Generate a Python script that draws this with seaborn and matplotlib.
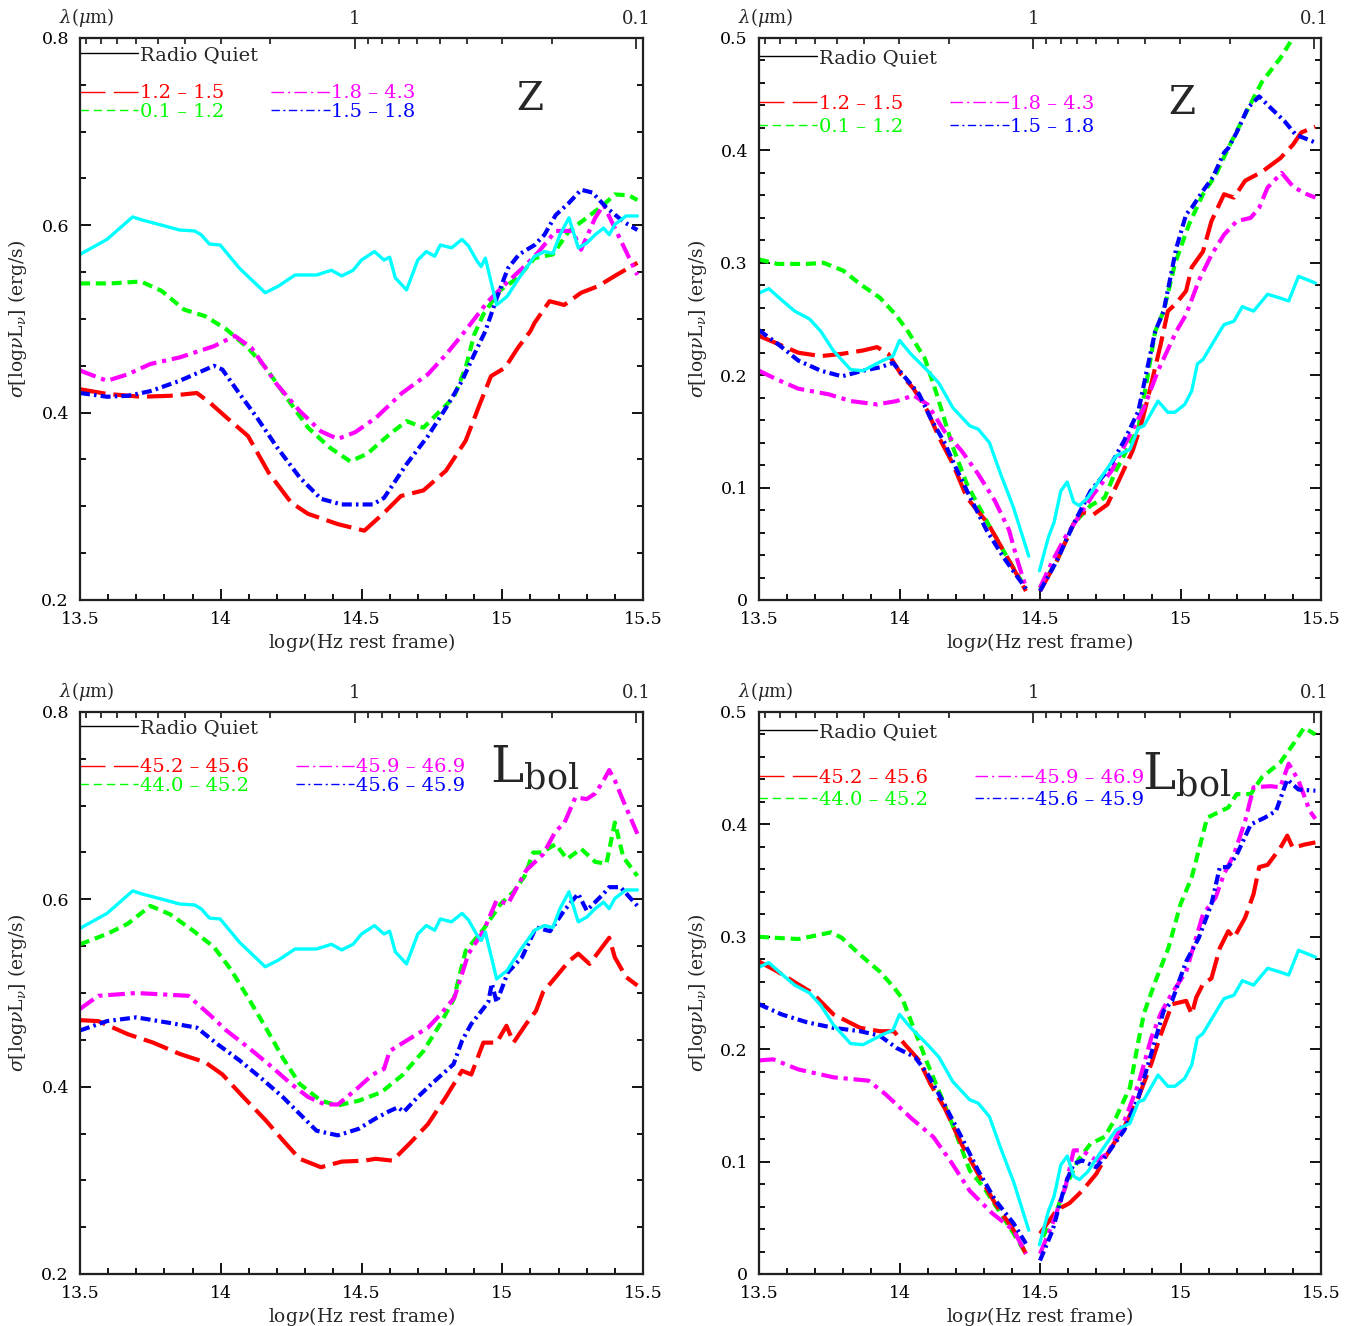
import numpy as np
import matplotlib
matplotlib.use("Agg")
import matplotlib.pyplot as plt
from matplotlib.lines import Line2D
from matplotlib.ticker import MultipleLocator, FuncFormatter, FixedLocator
import seaborn as sns

# --- data: log nu (Hz) vs sigma[log nu L_nu]
# radio quiet reference (cyan), same in both left panels
rq_left_x = [13.5, 13.596, 13.687, 13.717, 13.793, 13.854, 13.907, 13.93, 13.96, 13.998, 14.067, 14.158,
             14.204, 14.264, 14.34, 14.393, 14.43, 14.47, 14.50, 14.546, 14.58, 14.60, 14.62, 14.66, 14.70,
             14.73, 14.76, 14.78, 14.82, 14.857, 14.88, 14.91, 14.925, 14.94, 14.98, 15.017, 15.06, 15.115,
             15.15, 15.18, 15.205, 15.237, 15.27, 15.30, 15.33, 15.36, 15.38, 15.40, 15.44, 15.48]
rq_left_y = [0.569, 0.585, 0.609, 0.606, 0.600, 0.595, 0.594, 0.590, 0.580, 0.579, 0.554, 0.528,
             0.535, 0.547, 0.547, 0.552, 0.546, 0.552, 0.563, 0.572, 0.563, 0.566, 0.544, 0.531, 0.563,
             0.572, 0.567, 0.579, 0.576, 0.585, 0.578, 0.562, 0.556, 0.565, 0.515, 0.524, 0.544, 0.567,
             0.572, 0.570, 0.590, 0.608, 0.576, 0.581, 0.590, 0.597, 0.590, 0.601, 0.610, 0.610]

# radio quiet reference, same in both right panels (gap at the normalisation point)
nan = np.nan
rq_right_x = [13.5, 13.535, 13.58, 13.627, 13.68, 13.72, 13.764, 13.826, 13.87, 13.94, 13.977, 14.0, 14.04,
              14.10, 14.14, 14.19, 14.25, 14.28, 14.32, 14.36, 14.406, 14.46, nan, 14.498, 14.53, 14.55,
              14.574, 14.597, 14.62, 14.64, 14.67, 14.72, 14.77, 14.82, 14.85, 14.87, 14.92, 14.955, 14.98,
              15.015, 15.04, 15.06, 15.08, 15.14, 15.155, 15.19, 15.22, 15.26, 15.31, 15.35, 15.385, 15.42,
              15.46, 15.48]
rq_right_y = [0.273, 0.277, 0.267, 0.257, 0.250, 0.239, 0.222, 0.205, 0.204, 0.213, 0.217, 0.231, 0.219,
              0.204, 0.193, 0.171, 0.155, 0.152, 0.140, 0.112, 0.082, 0.039, nan, 0.026, 0.056, 0.069,
              0.097, 0.105, 0.087, 0.084, 0.091, 0.110, 0.128, 0.134, 0.153, 0.155, 0.177, 0.167, 0.167,
              0.174, 0.186, 0.210, 0.214, 0.239, 0.245, 0.248, 0.261, 0.257, 0.272, 0.269, 0.266, 0.288,
              0.284, 0.282]

# redshift bins, top left
z_red_x = [13.5, 13.596, 13.717, 13.82, 13.915, 13.96, 14.02, 14.097, 14.17, 14.25, 14.31, 14.416, 14.51,
           14.58, 14.64, 14.72, 14.80, 14.87, 14.92, 14.96, 15.01, 15.055, 15.10, 15.115, 15.168, 15.22,
           15.28, 15.34, 15.40, 15.48]
z_red_y = [0.425, 0.420, 0.417, 0.418, 0.421, 0.411, 0.395, 0.375, 0.336, 0.304, 0.292, 0.281, 0.274,
           0.293, 0.311, 0.317, 0.338, 0.370, 0.409, 0.439, 0.448, 0.469, 0.487, 0.496, 0.519, 0.515,
           0.528, 0.535, 0.546, 0.560]
z_green_x = [13.5, 13.61, 13.717, 13.79, 13.87, 13.945, 14.02, 14.097, 14.16, 14.234, 14.31, 14.386, 14.46,
             14.52, 14.60, 14.66, 14.72, 14.78, 14.827, 14.87, 14.90, 14.933, 14.99, 15.055, 15.115, 15.18,
             15.237, 15.30, 15.36, 15.40, 15.45, 15.48]
z_green_y = [0.538, 0.538, 0.540, 0.530, 0.510, 0.503, 0.489, 0.469, 0.448, 0.416, 0.384, 0.363, 0.348,
             0.356, 0.377, 0.391, 0.384, 0.402, 0.416, 0.448, 0.483, 0.505, 0.530, 0.544, 0.565, 0.569,
             0.594, 0.608, 0.622, 0.633, 0.632, 0.627]
z_mag_x = [13.5, 13.596, 13.67, 13.75, 13.854, 13.976, 14.05, 14.11, 14.20, 14.28, 14.356, 14.416, 14.477,
           14.553, 14.644, 14.736, 14.80, 14.857, 14.95, 15.01, 15.085, 15.13, 15.19, 15.25, 15.28, 15.33,
           15.36, 15.40, 15.44, 15.48]
z_mag_y = [0.445, 0.434, 0.441, 0.452, 0.459, 0.471, 0.482, 0.469, 0.430, 0.402, 0.380, 0.372, 0.379,
           0.395, 0.421, 0.441, 0.462, 0.483, 0.519, 0.537, 0.558, 0.572, 0.594, 0.594, 0.574, 0.608,
           0.622, 0.597, 0.572, 0.547]
z_blue_x = [13.5, 13.596, 13.67, 13.75, 13.854, 13.976, 14.006, 14.067, 14.128, 14.20, 14.28, 14.356, 14.43,
            14.54, 14.58, 14.66, 14.736, 14.80, 14.857, 14.90, 14.94, 14.98, 15.02, 15.06, 15.115, 15.15,
            15.19, 15.237, 15.28, 15.32, 15.37, 15.43, 15.48]
z_blue_y = [0.421, 0.417, 0.418, 0.423, 0.434, 0.450, 0.446, 0.420, 0.395, 0.363, 0.331, 0.308, 0.302,
            0.302, 0.309, 0.345, 0.375, 0.405, 0.434, 0.462, 0.487, 0.522, 0.554, 0.569, 0.579, 0.590,
            0.611, 0.624, 0.638, 0.635, 0.619, 0.604, 0.595]

# redshift bins, top right
zr_red_x = [13.5, 13.566, 13.64, 13.72, 13.795, 13.87, 13.92, 13.96, 14.005, 14.05, 14.10, 14.14, 14.19, 14.24,
            14.315, 14.39, 14.45, nan, 14.50, 14.56, 14.62, 14.65, 14.69, 14.74, 14.78, 14.83, 14.86, 14.89,
            14.93, 14.955, 14.985, 15.02, 15.04, 15.08, 15.11, 15.155, 15.19, 15.23, 15.29, 15.355, 15.40,
            15.43, 15.48]
zr_red_y = [0.235, 0.228, 0.220, 0.217, 0.219, 0.222, 0.225, 0.219, 0.201, 0.188, 0.168, 0.145, 0.121, 0.091,
            0.068, 0.035, 0.008, nan, 0.008, 0.035, 0.068, 0.078, 0.076, 0.085, 0.106, 0.133, 0.156, 0.186,
            0.228, 0.257, 0.264, 0.275, 0.296, 0.310, 0.337, 0.361, 0.358, 0.373, 0.381, 0.393, 0.405,
            0.416, 0.421]
zr_green_x = [13.5, 13.566, 13.673, 13.73, 13.80, 13.86, 13.93, 13.986, 14.03, 14.09, 14.13, 14.19, 14.24,
              14.315, 14.39, 14.45, nan, 14.50, 14.56, 14.62, 14.68, 14.73, 14.77, 14.81, 14.85, 14.88, 14.91,
              14.94, 14.98, 15.03, 15.08, 15.125, 15.17, 15.23, 15.29, 15.355, 15.40, 15.45]
zr_green_y = [0.303, 0.299, 0.299, 0.300, 0.293, 0.281, 0.269, 0.254, 0.239, 0.215, 0.185, 0.136, 0.103,
              0.068, 0.035, 0.010, nan, 0.010, 0.035, 0.068, 0.084, 0.091, 0.115, 0.134, 0.153, 0.195, 0.239,
              0.257, 0.299, 0.334, 0.361, 0.378, 0.402, 0.432, 0.461, 0.482, 0.500, 0.515]
zr_mag_x = [13.5, 13.566, 13.64, 13.748, 13.826, 13.92, 13.99, 14.05, 14.10, 14.16, 14.22, 14.28, 14.34, 14.39,
            14.42, 14.45, nan, 14.50, 14.545, 14.59, 14.635, 14.69, 14.755, 14.81, 14.87, 14.92, 14.985, 15.02,
            15.065, 15.11, 15.155, 15.20, 15.25, 15.28, 15.31, 15.36, 15.40, 15.44, 15.48]
zr_mag_y = [0.204, 0.196, 0.188, 0.183, 0.177, 0.174, 0.177, 0.182, 0.174, 0.150, 0.133, 0.112, 0.088, 0.062,
            0.035, 0.011, nan, 0.011, 0.035, 0.056, 0.073, 0.094, 0.115, 0.142, 0.171, 0.204, 0.239, 0.254,
            0.284, 0.307, 0.325, 0.337, 0.340, 0.349, 0.367, 0.380, 0.368, 0.362, 0.358]
zr_blue_x = [13.5, 13.566, 13.64, 13.72, 13.795, 13.87, 13.93, 13.977, 14.02, 14.07, 14.11, 14.16, 14.20, 14.25,
             14.31, 14.37, 14.45, nan, 14.50, 14.56, 14.62, 14.68, 14.74, 14.80, 14.85, 14.88, 14.91, 14.94,
             14.985, 15.02, 15.04, 15.08, 15.115, 15.155, 15.17, 15.20, 15.24, 15.28, 15.32, 15.37, 15.41, 15.48]
zr_blue_y = [0.240, 0.228, 0.213, 0.204, 0.199, 0.204, 0.207, 0.211, 0.198, 0.183, 0.162, 0.140, 0.118, 0.092,
             0.062, 0.038, 0.010, nan, 0.008, 0.035, 0.068, 0.097, 0.115, 0.142, 0.168, 0.204, 0.239, 0.257,
             0.313, 0.343, 0.349, 0.364, 0.376, 0.398, 0.402, 0.416, 0.438, 0.448, 0.438, 0.426, 0.414, 0.407]

# bolometric luminosity bins, bottom left
l_red_x = [13.5, 13.565, 13.67, 13.76, 13.854, 13.945, 14.006, 14.08, 14.16, 14.22, 14.28, 14.356, 14.43,
           14.51, 14.55, 14.61, 14.67, 14.736, 14.80, 14.857, 14.89, 14.933, 14.98, 15.015, 15.04, 15.085,
           15.12, 15.145, 15.19, 15.237, 15.27, 15.31, 15.35, 15.38, 15.40, 15.44, 15.48]
l_red_y = [0.471, 0.470, 0.456, 0.447, 0.435, 0.426, 0.413, 0.389, 0.364, 0.343, 0.323, 0.314, 0.320,
           0.321, 0.323, 0.321, 0.339, 0.360, 0.389, 0.417, 0.413, 0.447, 0.447, 0.465, 0.447, 0.467,
           0.481, 0.501, 0.517, 0.534, 0.542, 0.531, 0.547, 0.559, 0.538, 0.517, 0.508]
l_green_x = [13.5, 13.596, 13.67, 13.75, 13.82, 13.90, 13.976, 14.036, 14.097, 14.16, 14.22, 14.28, 14.356,
             14.416, 14.49, 14.57, 14.644, 14.72, 14.78, 14.827, 14.87, 14.933, 14.994, 15.04, 15.08, 15.11,
             15.14, 15.19, 15.23, 15.28, 15.33, 15.37, 15.40, 15.43, 15.48]
l_green_y = [0.552, 0.563, 0.574, 0.593, 0.584, 0.567, 0.549, 0.525, 0.495, 0.463, 0.431, 0.403, 0.385,
             0.380, 0.385, 0.394, 0.412, 0.438, 0.467, 0.493, 0.545, 0.568, 0.595, 0.608, 0.625, 0.650,
             0.650, 0.659, 0.643, 0.654, 0.640, 0.638, 0.682, 0.645, 0.625]
l_mag_x = [13.5, 13.565, 13.70, 13.885, 13.96, 14.02, 14.097, 14.17, 14.25, 14.31, 14.37, 14.416, 14.477,
           14.54, 14.58, 14.60, 14.67, 14.736, 14.78, 14.83, 14.88, 14.933, 14.98, 15.02, 15.085, 15.145,
           15.19, 15.22, 15.26, 15.30, 15.33, 15.36, 15.38, 15.40, 15.43, 15.48]
l_mag_y = [0.483, 0.497, 0.500, 0.497, 0.477, 0.460, 0.442, 0.424, 0.403, 0.389, 0.381, 0.381, 0.396,
           0.413, 0.419, 0.438, 0.451, 0.463, 0.477, 0.495, 0.542, 0.566, 0.599, 0.595, 0.631, 0.648,
           0.673, 0.681, 0.709, 0.707, 0.713, 0.727, 0.738, 0.727, 0.705, 0.670]
l_blue_x = [13.5, 13.596, 13.70, 13.82, 13.915, 13.99, 14.067, 14.14, 14.22, 14.28, 14.34, 14.416, 14.49,
            14.55, 14.60, 14.63, 14.65, 14.70, 14.76, 14.827, 14.857, 14.89, 14.95, 14.963, 14.98, 15.02,
            15.07, 15.12, 15.17, 15.22, 15.27, 15.30, 15.36, 15.38, 15.42, 15.48]
l_blue_y = [0.460, 0.470, 0.474, 0.468, 0.463, 0.445, 0.428, 0.410, 0.389, 0.371, 0.353, 0.348, 0.355,
            0.366, 0.374, 0.378, 0.373, 0.389, 0.406, 0.424, 0.449, 0.467, 0.490, 0.510, 0.490, 0.522,
            0.538, 0.570, 0.566, 0.588, 0.606, 0.588, 0.606, 0.613, 0.613, 0.593]

# bolometric luminosity bins, bottom right
lr_red_x = [13.5, 13.566, 13.69, 13.765, 13.86, 13.93, 13.98, 14.02, 14.07, 14.11, 14.16, 14.22, 14.28, 14.34,
            14.406, 14.45, nan, 14.50, 14.56, 14.605, 14.65, 14.70, 14.74, 14.80, 14.85, 14.896, 14.93, 14.97,
            15.02, 15.04, 15.056, 15.08, 15.11, 15.14, 15.17, 15.19, 15.23, 15.26, 15.28, 15.31, 15.355,
            15.38, 15.40, 15.44, 15.48]
lr_red_y = [0.278, 0.269, 0.250, 0.231, 0.219, 0.216, 0.216, 0.204, 0.190, 0.169, 0.148, 0.116, 0.089, 0.063,
            0.039, 0.018, nan, 0.036, 0.057, 0.063, 0.074, 0.089, 0.107, 0.131, 0.157, 0.187, 0.213, 0.240,
            0.243, 0.231, 0.246, 0.258, 0.263, 0.290, 0.305, 0.299, 0.317, 0.338, 0.362, 0.364, 0.379,
            0.390, 0.379, 0.382, 0.384]
lr_green_x = [13.5, 13.566, 13.64, 13.70, 13.757, 13.795, 13.86, 13.93, 13.98, 14.01, 14.055, 14.10, 14.16,
              14.21, 14.25, 14.30, 14.36, 14.406, 14.45, nan, 14.51, 14.56, 14.59, 14.635, 14.68, 14.73, 14.77,
              14.82, 14.85, 14.87, 14.91, 14.957, 15.0, 15.04, 15.095, 15.17, 15.20, 15.25, 15.29, 15.355,
              15.40, 15.44, 15.48]
lr_green_y = [0.300, 0.299, 0.298, 0.301, 0.304, 0.299, 0.284, 0.269, 0.255, 0.245, 0.216, 0.187, 0.151,
              0.119, 0.092, 0.077, 0.054, 0.036, 0.018, nan, 0.033, 0.057, 0.077, 0.101, 0.116, 0.122, 0.139,
              0.166, 0.207, 0.232, 0.260, 0.290, 0.329, 0.353, 0.406, 0.415, 0.427, 0.427, 0.442, 0.455,
              0.471, 0.486, 0.480]
lr_mag_x = [13.5, 13.55, 13.64, 13.765, 13.89, 13.95, 14.04, 14.12, 14.18, 14.25, 14.33, 14.406, 14.45, nan,
            14.50, 14.545, 14.59, 14.62, 14.65, 14.70, 14.74, 14.80, 14.85, 14.896, 14.93, 14.97, 15.02, 15.08,
            15.125, 15.155, 15.19, 15.23, 15.26, 15.32, 15.355, 15.385, 15.42, 15.46, 15.48]
lr_mag_y = [0.190, 0.191, 0.182, 0.175, 0.172, 0.160, 0.139, 0.122, 0.101, 0.074, 0.054, 0.039, 0.018, nan,
            0.018, 0.045, 0.077, 0.110, 0.110, 0.101, 0.107, 0.136, 0.169, 0.210, 0.232, 0.250, 0.269, 0.320,
            0.335, 0.356, 0.373, 0.403, 0.433, 0.434, 0.433, 0.454, 0.439, 0.412, 0.405]
lr_blue_x = [13.5, 13.58, 13.67, 13.765, 13.86, 13.93, 13.99, 14.055, 14.10, 14.16, 14.22, 14.28, 14.34,
             14.406, 14.45, nan, 14.50, 14.545, 14.59, 14.62, 14.65, 14.70, 14.74, 14.80, 14.85, 14.896, 14.94,
             14.97, 15.02, 15.065, 15.11, 15.14, 15.17, 15.20, 15.25, 15.30, 15.34, 15.38, 15.42, 15.48]
lr_blue_y = [0.240, 0.231, 0.224, 0.219, 0.216, 0.212, 0.201, 0.193, 0.178, 0.151, 0.122, 0.092, 0.066,
             0.045, 0.027, nan, 0.012, 0.039, 0.080, 0.098, 0.101, 0.095, 0.107, 0.128, 0.157, 0.196, 0.234,
             0.243, 0.278, 0.299, 0.329, 0.362, 0.362, 0.373, 0.400, 0.406, 0.412, 0.440, 0.431, 0.430]

z_labels = ['1.2 – 1.5', '0.1 – 1.2', '1.8 – 4.3', '1.5 – 1.8']          # red, green, magenta, blue
lbol_labels = ['45.2 – 45.6', '44.0 – 45.2', '45.9 – 46.9', '45.6 – 45.9']

lam_major = [1, 0.1]                                     # top axis, wavelength in micron
lam_minor = [2, 3, 4, 5, 6, 7, 8, 9, 0.2, 0.3, 0.4, 0.5, 0.6, 0.7, 0.8, 0.9]

# --- styling
sns.set_theme(style="ticks")
plt.rcParams['font.family'] = ['DejaVu Serif']
plt.rcParams['mathtext.fontset'] = 'dejavuserif'

COL = {'red': '#ff0000', 'green': '#00ff00', 'magenta': '#ff00ff', 'blue': '#0000ff', 'rq': '#00ffff'}
LINE_DASH = {'red': (0, (6.2, 1.9)), 'green': (0, (2.4, 1.4)),
             'magenta': (0, (4.0, 1.4, 1.0, 1.4)), 'blue': (0, (2.4, 1.0, 0.6, 1.0))}
LEG_DASH = {'red': (0, (18, 6)), 'green': (0, (6, 3.5)),
            'magenta': (0, (9, 3, 1.5, 3)), 'blue': (0, (6, 2.5, 1.5, 2.5))}
ORDER = ['red', 'green', 'magenta', 'blue']


def lam_to_lognu(lam):
    return np.log10(2.998e8 / (np.asarray(lam, float) * 1e-6))


def draw(ax, x, y, **kw):
    # split at NaN so the gap at the normalisation frequency stays open
    x = np.asarray(x, float)
    y = np.asarray(y, float)
    breaks = np.where(np.isnan(x))[0]
    start = 0
    for b in list(breaks) + [len(x)]:
        if b - start > 1:
            sns.lineplot(x=x[start:b], y=y[start:b], ax=ax, sort=False, estimator=None, **kw)
        start = b + 1


panels = [
    dict(rect=[80, 600, 563], ylim=(0.2, 0.8), major=0.2, minor=0.05,
         curves={'red': (z_red_x, z_red_y), 'green': (z_green_x, z_green_y),
                 'magenta': (z_mag_x, z_mag_y), 'blue': (z_blue_x, z_blue_y)},
         rq=(rq_left_x, rq_left_y), labels=z_labels, tag='Z', tag_xy=(0.799, 0.890),
         rq_y=0.970, leg_y=0.885, spacing=0.02, ylab_x=-0.090),
    dict(rect=[759, 600, 562], ylim=(0.0, 0.5), major=0.1, minor=0.02,
         curves={'red': (zr_red_x, zr_red_y), 'green': (zr_green_x, zr_green_y),
                 'magenta': (zr_mag_x, zr_mag_y), 'blue': (zr_blue_x, zr_blue_y)},
         rq=(rq_right_x, rq_right_y), labels=z_labels, tag='Z', tag_xy=(0.753, 0.884),
         rq_y=0.964, leg_y=0.862, spacing=0.25, ylab_x=-0.089),
    dict(rect=[80, 1274, 563], ylim=(0.2, 0.8), major=0.2, minor=0.05,
         curves={'red': (l_red_x, l_red_y), 'green': (l_green_x, l_green_y),
                 'magenta': (l_mag_x, l_mag_y), 'blue': (l_blue_x, l_blue_y)},
         rq=(rq_left_x, rq_left_y), labels=lbol_labels, tag='L', tag_xy=(0.728, 0.874),
         rq_y=0.972, leg_y=0.885, spacing=0.02, ylab_x=-0.090),
    dict(rect=[759, 1274, 562], ylim=(0.0, 0.5), major=0.1, minor=0.02,
         curves={'red': (lr_red_x, lr_red_y), 'green': (lr_green_x, lr_green_y),
                 'magenta': (lr_mag_x, lr_mag_y), 'blue': (lr_blue_x, lr_blue_y)},
         rq=(rq_right_x, rq_right_y), labels=lbol_labels, tag='L', tag_xy=(0.681, 0.861),
         rq_y=0.964, leg_y=0.863, spacing=0.22, ylab_x=-0.089),
]

W, H = 1345, 1326
fig = plt.figure(figsize=(W / 100, H / 100), dpi=100)
fmt = FuncFormatter(lambda v, p: f'{v:g}')

for p in panels:
    left, bottom, width = p['rect']
    ax = fig.add_axes([left / W, (H - bottom) / H, width / W, 562 / H])
    ax.set_facecolor('white')

    for name in ['green', 'red', 'magenta', 'blue']:
        cx, cy = p['curves'][name]
        draw(ax, cx, cy, color=COL[name], linewidth=3.0, linestyle=LINE_DASH[name])
    draw(ax, p['rq'][0], p['rq'][1], color=COL['rq'], linewidth=2.4, linestyle='-')

    ax.set_xlim(13.5, 15.5)
    ax.set_ylim(*p['ylim'])
    ax.xaxis.set_major_locator(MultipleLocator(0.5))
    ax.xaxis.set_minor_locator(MultipleLocator(0.1))
    ax.yaxis.set_major_locator(MultipleLocator(p['major']))
    ax.yaxis.set_minor_locator(MultipleLocator(p['minor']))
    ax.xaxis.set_major_formatter(fmt)
    ax.yaxis.set_major_formatter(fmt)
    ax.tick_params(which='both', direction='in', top=False, right=True, width=1.3, colors='black',
                   labelsize=12.5, pad=8)
    ax.tick_params(which='major', length=8)
    ax.tick_params(which='minor', length=4.5)
    for s in ax.spines.values():
        s.set_linewidth(1.6)
        s.set_color('black')
        s.set_visible(True)

    ax.set_xlabel(r'log$\nu$(Hz rest frame)', fontsize=13.5)
    ax.set_ylabel(r'$\sigma$[log$\nu$L$_\nu$] (erg/s)', fontsize=13.5)
    ax.xaxis.set_label_coords(0.5, -0.056)
    ax.yaxis.set_label_coords(p['ylab_x'], 0.5)

    # wavelength axis on top
    top = ax.twiny()
    top.set_xlim(ax.get_xlim())
    top.xaxis.set_major_locator(FixedLocator(lam_to_lognu(lam_major)))
    top.xaxis.set_minor_locator(FixedLocator(lam_to_lognu(lam_minor)))
    top.set_xticklabels([f'{v:g}' for v in lam_major])
    top.tick_params(which='both', direction='in', width=1.3, labelsize=13, pad=7)
    top.tick_params(which='major', length=8)
    top.tick_params(which='minor', length=4.5)
    top.grid(False)
    ax.grid(False)
    ax.text(0.012, 1.036, r'$\lambda$($\mu$m)', transform=ax.transAxes, ha='center', va='center',
            fontsize=13)

    # panel tag
    if p['tag'] == 'Z':
        ax.text(*p['tag_xy'], 'Z', transform=ax.transAxes, ha='center', va='center', fontsize=28)
    else:
        ax.text(*p['tag_xy'], r'L$_{\mathrm{bol}}$', transform=ax.transAxes, ha='left', va='baseline',
                fontsize=36)

    # legends
    rq_handle = [Line2D([], [], color='black', lw=1.0)]
    leg1 = ax.legend(rq_handle, ['Radio Quiet'], loc='center left', bbox_to_anchor=(0, p['rq_y']),
                     frameon=False, borderpad=0, borderaxespad=0, handlelength=3.0, handletextpad=0.1,
                     prop={'size': 14})
    handles = [Line2D([], [], color=COL[n], lw=1.0, linestyle=LEG_DASH[n]) for n in ORDER]
    leg2 = ax.legend(handles, p['labels'], ncol=2, loc='center left', bbox_to_anchor=(0, p['leg_y']),
                     frameon=False, borderpad=0, borderaxespad=0, handlelength=3.0, handletextpad=0.1,
                     columnspacing=2.4, labelspacing=p['spacing'], labelcolor='linecolor',
                     prop={'size': 14})
    ax.add_artist(leg1)

fig.savefig('out.png', dpi=100, facecolor='white')
